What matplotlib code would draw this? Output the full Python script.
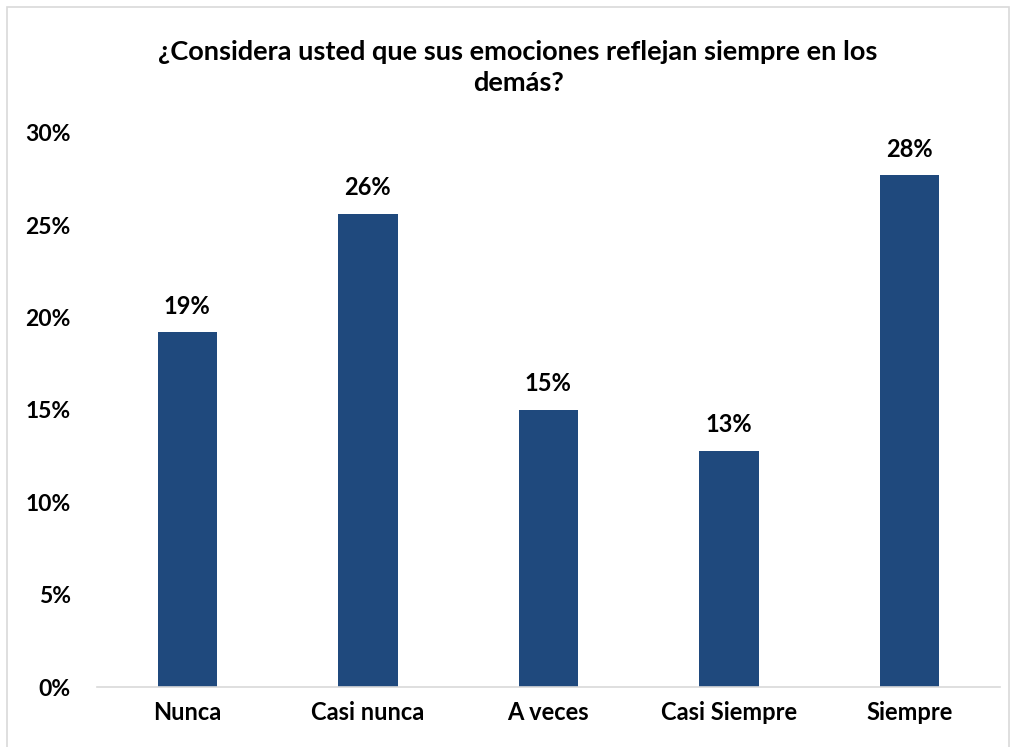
import matplotlib.pyplot as plt
from matplotlib.patches import Rectangle

# ----- Data -----
categories = ["Nunca", "Casi nunca", "A veces", "Casi Siempre", "Siempre"]
values = [0.192, 0.256, 0.150, 0.128, 0.277]
labels = ["19%", "26%", "15%", "13%", "28%"]
yticks = [0, 0.05, 0.10, 0.15, 0.20, 0.25, 0.30]
ytick_labels = ["0%", "5%", "10%", "15%", "20%", "25%", "30%"]

plt.rcParams["font.family"] = ["Lato", "DejaVu Sans"]
plt.rcParams["font.weight"] = "bold"

fig = plt.figure(figsize=(10.16, 7.47), dpi=100)
ax = fig.add_axes([0.0955, 0.0803, 0.8885, 0.7417])

x = range(len(categories))
ax.bar(x, values, width=0.33, color="#1F497D")
for xi, v, lab in zip(x, values, labels):
    ax.text(xi, v + 0.008, lab, ha="center", va="bottom", fontsize=17, fontweight="bold")

ax.set_xlim(-0.5, len(categories) - 0.5)
ax.set_ylim(0, 0.30)
ax.set_yticks(yticks)
ax.set_yticklabels(ytick_labels, fontsize=16.5, fontweight="bold")
ax.set_xticks(list(x))
ax.set_xticklabels(categories, fontsize=17, fontweight="bold")
ax.tick_params(axis="both", length=0)
ax.tick_params(axis="y", pad=19)
ax.tick_params(axis="x", pad=10)

for side in ["top", "right", "left"]:
    ax.spines[side].set_visible(False)
ax.spines["bottom"].set_color("#D9D9D9")
ax.spines["bottom"].set_linewidth(1.2)

fig.text(0.51, 0.910, "¿Considera usted que sus emociones reflejan siempre en los\ndemás?",
         ha="center", va="center", fontsize=19.5, fontweight="bold", linespacing=1.35)

# chart border
fig.patches.append(Rectangle((0.007, -0.01), 0.986, 1.0, transform=fig.transFigure,
                             fill=False, edgecolor="#D9D9D9", linewidth=1.2))

fig.savefig("out.png", dpi=100)
